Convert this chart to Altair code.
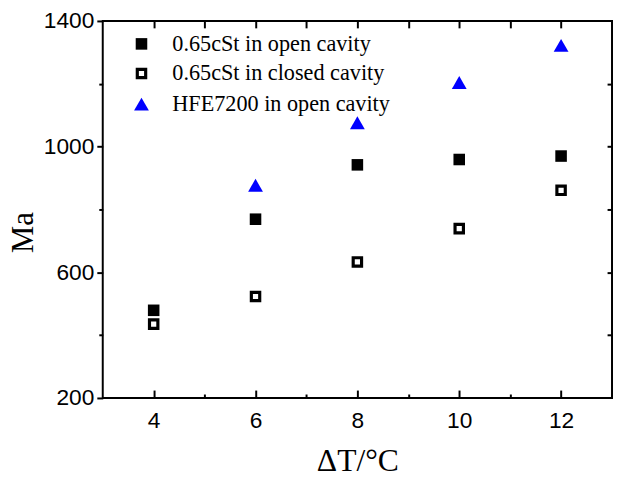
import altair as alt
import pandas as pd

# ---- data ----
dT = [4, 6, 8, 10, 12]
open_065 = [479, 769, 942, 959, 970]
closed_065 = [435, 523, 633, 739, 861]
dT_hfe = [6, 8, 10, 12]
hfe7200 = [877, 1076, 1204, 1322]

series_names = ["0.65cSt in open cavity", "0.65cSt in closed cavity", "HFE7200 in open cavity"]

x_major = [4, 6, 8, 10, 12]
x_minor = [5, 7, 9, 11]
x_all = [4, 5, 6, 7, 8, 9, 10, 11, 12]
y_major = [200, 600, 1000, 1400]
y_minor = [400, 800, 1200]
y_right = [400, 600, 800, 1000, 1200]

rows = []
for x, v in zip(dT, open_065):
    rows.append({"dT": x, "Ma": v, "series": series_names[0]})
for x, v in zip(dT, closed_065):
    rows.append({"dT": x, "Ma": v, "series": series_names[1]})
for x, v in zip(dT_hfe, hfe7200):
    rows.append({"dT": x, "Ma": v, "series": series_names[2]})
df = pd.DataFrame(rows)

W, H = 516, 382

def xs():
    return alt.Scale(domain=[3, 13], nice=False, zero=False)

def ys():
    return alt.Scale(domain=[200, 1400], nice=False, zero=False)

legend = alt.Legend(
    title=None, orient="none", legendX=28, legendY=12,
    labelFont="Liberation Serif", labelFontSize=22.5, labelColor="black",
    labelOffset=20, rowPadding=6, padding=0, labelLimit=400,
    symbolStrokeWidth=3.2,
)

def blank_axis(**kw):
    return alt.Axis(labels=False, domain=False, grid=False, title=None,
                    tickColor="black", tickWidth=2, **kw)

points = alt.Chart(df).mark_point(opacity=1, filled=True, strokeWidth=3.2).encode(
    x=alt.X("dT:Q", scale=xs(), axis=alt.Axis(
        orient="bottom", values=x_major, ticks=False, domain=False, grid=False,
        title="ΔT/°C", labelFont="Liberation Sans", labelFontSize=23,
        labelColor="black", labelPadding=12, format="d",
        titleFont="Liberation Serif", titleFontSize=32, titleFontWeight="normal",
        titleColor="black", titlePadding=14)),
    y=alt.Y("Ma:Q", scale=ys(), axis=alt.Axis(
        orient="left", values=y_major, tickSize=6, tickWidth=2, tickColor="black",
        domain=False, grid=False, title="Ma", labelFont="Liberation Sans",
        labelFontSize=23, labelColor="black", labelPadding=3, format="d",
        titleFont="Liberation Serif", titleFontSize=31, titleFontWeight="normal",
        titleColor="black", titleAngle=270, titleX=-80, titleY=214,
        titleAlign="center", titleBaseline="middle")),
    shape=alt.Shape("series:N", scale=alt.Scale(domain=series_names,
                    range=["square", "square", "triangle-up"]), legend=legend),
    fill=alt.Fill("series:N", scale=alt.Scale(domain=series_names,
                  range=["#000000", "#ffffff", "#0000ff"]), legend=legend),
    stroke=alt.Stroke("series:N", scale=alt.Scale(domain=series_names,
                      range=["transparent", "#000000", "transparent"]), legend=legend),
    size=alt.Size("series:N", scale=alt.Scale(type="ordinal", domain=series_names,
                  range=[137, 72, 225]), legend=legend),
)

inv = alt.Chart(df).mark_point(opacity=0)

layer2 = inv.encode(
    x=alt.X("dT:Q", scale=xs(), axis=blank_axis(orient="top", offset=-H, values=x_major, tickSize=8)),
    y=alt.Y("Ma:Q", scale=ys(), axis=blank_axis(orient="left", values=y_minor, tickSize=4)),
)
layer3 = inv.encode(
    x=alt.X("dT:Q", scale=xs(), axis=blank_axis(orient="top", offset=-H, values=x_minor, tickSize=4)),
    y=alt.Y("Ma:Q", scale=ys(), axis=blank_axis(orient="left", offset=-W, values=y_right, tickSize=5)),
)
layer4 = inv.encode(
    x=alt.X("dT:Q", scale=xs(), axis=blank_axis(orient="bottom", offset=-H, values=x_all, tickSize=7)),
    y=alt.Y("Ma:Q", scale=ys(), axis=None),
)

chart = alt.layer(points, layer2, layer3, layer4).resolve_axis(
    x="independent", y="independent"
).properties(
    width=W, height=H,
    autosize=alt.AutoSizeParams(type="none"),
    padding={"left": 96, "top": 10, "right": 1, "bottom": 80},
    background="white",
).configure_view(stroke="black", strokeWidth=2)

chart.save("out.html", embed_options={"renderer": "svg", "actions": False})
